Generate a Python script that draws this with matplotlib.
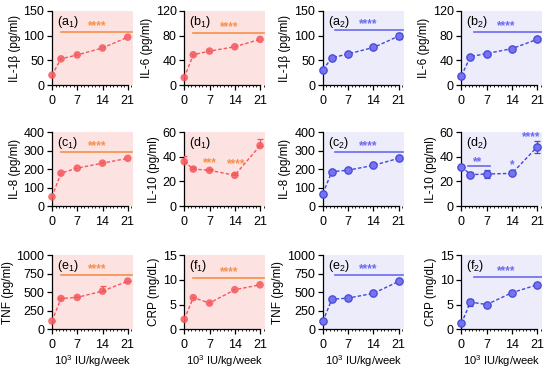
import matplotlib
matplotlib.use("Agg")
import matplotlib.pyplot as plt
from matplotlib.ticker import MultipleLocator

plt.rcParams["font.family"] = ["Liberation Sans", "DejaVu Sans"]
plt.rcParams["mathtext.fontset"] = "custom"
plt.rcParams["mathtext.rm"] = "Liberation Sans"
plt.rcParams["mathtext.it"] = "Liberation Sans"

# ---------- DATA ----------
doses = [0, 2.5, 7, 14, 21]

il1b_1 = [20, 53, 61, 75, 97]
il6_1 = [12, 49, 55, 62, 74]
il8_1 = [50, 178, 205, 232, 258]
il10_1 = [36, 30, 29, 25, 49]
il10_1_err = [5, 2, 1, 1.5, 5]
tnf_1 = [110, 415, 430, 515, 650]
tnf_1_err = [0, 0, 0, 75, 0]
crp_1 = [2.0, 6.4, 5.3, 8.0, 9.0]

il1b_2 = [31, 55, 63, 76, 99]
il1b_2_err = [0, 0, 0, 0, 6]
il6_2 = [15, 46, 51, 59, 74]
il8_2 = [68, 186, 194, 220, 258]
il10_2 = [32, 25.5, 26, 26.5, 48]
il10_2_err = [0, 2, 3, 0, 5]
tnf_2 = [105, 405, 420, 485, 645]
crp_2 = [1.2, 5.5, 5.0, 7.4, 9.0]
crp_2_err = [0, 0.7, 0, 0, 0]

# ---------- PANELS ----------
# (label, ylabel, y, err, ymax, ystep, group, sig-bar y)
panels = [
    ("(a$_1$)", "IL-1\u03b2 (pg/ml)", il1b_1, None, 150, 50, 1, 108),
    ("(b$_1$)", "IL-6 (pg/ml)", il6_1, None, 120, 40, 1, 85),
    ("(a$_2$)", "IL-1\u03b2 (pg/ml)", il1b_2, il1b_2_err, 150, 50, 2, 111.5),
    ("(b$_2$)", "IL-6 (pg/ml)", il6_2, None, 120, 40, 2, 86),
    ("(c$_1$)", "IL-8 (pg/ml)", il8_1, None, 400, 100, 1, 290),
    ("(d$_1$)", "IL-10 (pg/ml)", il10_1, il10_1_err, 60, 20, 1, None),
    ("(c$_2$)", "IL-8 (pg/ml)", il8_2, None, 400, 100, 2, 290),
    ("(d$_2$)", "IL-10 (pg/ml)", il10_2, il10_2_err, 60, 20, 2, None),
    ("(e$_1$)", "TNF (pg/ml)", tnf_1, tnf_1_err, 1000, 250, 1, 728),
    ("(f$_1$)", "CRP (mg/dL)", crp_1, None, 15, 5, 1, 10.3),
    ("(e$_2$)", "TNF (pg/ml)", tnf_2, None, 1000, 250, 2, 735),
    ("(f$_2$)", "CRP (mg/dL)", crp_2, crp_2_err, 15, 5, 2, 10.5),
]

styles = {
    1: dict(bg="#fde2e2", c="#f4585c", sig="#f5904a"),
    2: dict(bg="#ececfb", c="#4646d8", sig="#6a6af0"),
}

lefts = [0.0945, 0.335, 0.587, 0.839]
bottoms = [0.7715, 0.446, 0.115]
w, h = 0.147, 0.199


def stars(ax, x, y, s, color):
    ax.annotate(s, (x, y), xytext=(0, 2), textcoords="offset points",
                color=color, ha="center", va="baseline", fontsize=8.5,
                fontweight="bold", annotation_clip=False)


fig = plt.figure(figsize=(5.5, 3.72), dpi=100)

for i, (lab, ylab, y, err, ymax, ystep, grp, sig_y) in enumerate(panels):
    r, c = divmod(i, 4)
    st = styles[grp]
    ax = fig.add_axes([lefts[c], bottoms[r], w, h])
    ax.set_facecolor(st["bg"])
    ax.plot(doses, y, ls=(0, (2.5, 1.5)), lw=1.0, color=st["c"], zorder=3)
    if err is not None:
        lo = [0] * 5 if grp == 1 else err
        ax.errorbar(doses, y, yerr=[lo, err], fmt="none", ecolor=st["c"],
                    elinewidth=0.9, capsize=2.5, capthick=0.9, zorder=3)
    if grp == 1:
        ax.scatter(doses, y, s=30, color=st["c"], alpha=0.85, edgecolors="none",
                   zorder=4, clip_on=False)
    else:
        ax.scatter(doses, y, s=28, color="#7474f0", edgecolors=st["c"],
                   linewidths=0.9, zorder=4, clip_on=False)

    if sig_y is not None:
        ax.plot([2.5 if grp == 1 else 3.5, 22.2], [sig_y, sig_y], color=st["sig"],
                lw=1.2, zorder=2)
        stars(ax, 12.5, sig_y, "****", st["sig"])

    if lab == "(d$_1$)":
        stars(ax, 7.2, 30, "***", st["sig"])
        stars(ax, 14.3, 29, "****", st["sig"])
    if lab == "(d$_2$)":
        ax.plot([1.7, 8], [32.2, 32.2], color=st["sig"], lw=1.2, zorder=2)
        stars(ax, 4.6, 31.2, "**", st["sig"])
        stars(ax, 14, 28.2, "*", st["sig"])
        stars(ax, 19.2, 51.5, "****", st["sig"])

    ax.text(0.06, 0.96, lab, transform=ax.transAxes, ha="left", va="top",
            fontsize=9)

    ax.set_xlim(0, 22.4)
    ax.set_ylim(0, ymax)
    ax.set_xticks([0, 7, 14, 21])
    ax.xaxis.set_minor_locator(MultipleLocator(1))
    ax.yaxis.set_major_locator(MultipleLocator(ystep))
    ax.spines["top"].set_visible(False)
    ax.spines["right"].set_visible(False)
    ax.spines["left"].set_bounds(0, ymax)
    ax.spines["bottom"].set_bounds(0, 21)
    ax.spines["left"].set_linewidth(0.9)
    ax.spines["bottom"].set_linewidth(0.9)
    ax.tick_params(axis="both", labelsize=9, length=3.5, width=0.9, pad=2)
    ax.tick_params(axis="x", pad=3.5)
    ax.tick_params(axis="x", which="minor", length=1.5, width=0.6)
    ax.set_ylabel(ylab, fontsize=8.5, labelpad=2)
    if r == 2:
        ax.set_xlabel("10$^3$ IU/kg/week", fontsize=8, labelpad=1.5)

fig.savefig("out.png", dpi=100)
